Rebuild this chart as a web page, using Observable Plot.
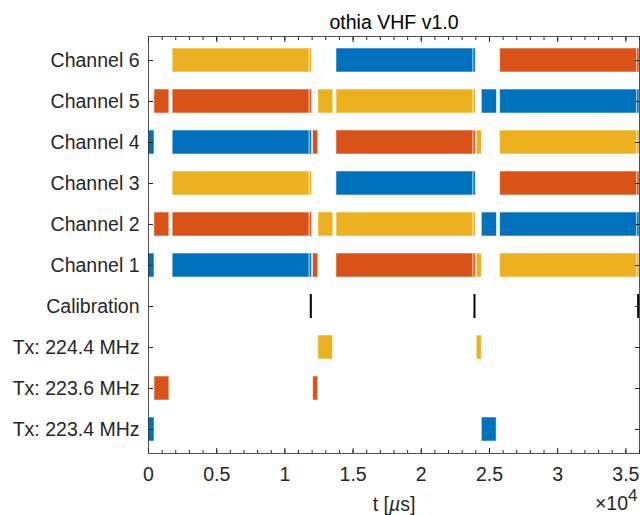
<!DOCTYPE html>
<html>
<head>
<meta charset="utf-8">
<script src="https://cdn.jsdelivr.net/npm/d3@7"></script>
<script src="https://cdn.jsdelivr.net/npm/@observablehq/plot@0.6"></script>
<style>
  html, body { margin: 0; padding: 0; background: #fff; }
</style>
</head>
<body>
<div id="chart"></div>
<script>
// ---- data (times in µs) ----
const rowLabels = ["Channel 6", "Channel 5", "Channel 4", "Channel 3", "Channel 2", "Channel 1",
  "Calibration", "Tx: 224.4 MHz", "Tx: 223.6 MHz", "Tx: 223.4 MHz"];
const freqLabels = ["223.4", "223.6", "224.4"];
const freqColors = ["#0072BD", "#D95319", "#EDB120"];

// [start, end, transmit frequency]
const channel1 = [[0, 440, "223.4"], [1770, 11820, "223.4"], [11820, 11990, "223.4"], [12060, 12450, "223.6"],
  [13780, 23830, "223.6"], [23830, 24000, "223.6"], [24070, 24450, "224.4"],
  [25780, 35830, "224.4"], [35830, 36000, "224.4"]];
const channel2 = [[430, 1530, "223.6"], [1770, 11820, "223.6"], [11820, 11990, "223.6"], [12450, 13550, "224.4"],
  [13780, 23830, "224.4"], [23830, 24000, "224.4"], [24440, 25550, "223.4"],
  [25780, 35830, "223.4"], [35830, 36000, "223.4"]];
const channel3 = [[1770, 11820, "224.4"], [11820, 11990, "224.4"],
  [13780, 23830, "223.4"], [23830, 24000, "223.4"],
  [25780, 35830, "223.6"], [35830, 36000, "223.6"]];
const channel4 = [[0, 440, "223.4"], [1770, 11820, "223.4"], [11820, 11990, "223.4"], [12060, 12450, "223.6"],
  [13780, 23830, "223.6"], [23830, 24000, "223.6"], [24070, 24450, "224.4"],
  [25780, 35830, "224.4"], [35830, 36000, "224.4"]];
const channel5 = [[430, 1530, "223.6"], [1770, 11820, "223.6"], [11820, 11990, "223.6"], [12450, 13550, "224.4"],
  [13780, 23830, "224.4"], [23830, 24000, "224.4"], [24440, 25550, "223.4"],
  [25780, 35830, "223.4"], [35830, 36000, "223.4"]];
const channel6 = [[1770, 11820, "224.4"], [11820, 11990, "224.4"],
  [13780, 23830, "223.4"], [23830, 24000, "223.4"],
  [25780, 35830, "223.6"], [35830, 36000, "223.6"]];
const tx2244 = [[12450, 13530, "224.4"], [24070, 24440, "224.4"]];
const tx2236 = [[440, 1530, "223.6"], [12070, 12450, "223.6"]];
const tx2234 = [[0, 440, "223.4"], [24440, 25530, "223.4"]];
const calibrationTimes = [11900, 23900, 35900];

const xMajorTicks = [0, 5000, 10000, 15000, 20000, 25000, 30000, 35000];
const xMinorTicks = d3.range(0, 36001, 1000);
const xDomain = [0, 36000];

// ---- build table ----
const rowSegments = [
  ["Channel 6", channel6], ["Channel 5", channel5], ["Channel 4", channel4],
  ["Channel 3", channel3], ["Channel 2", channel2], ["Channel 1", channel1],
  ["Tx: 224.4 MHz", tx2244], ["Tx: 223.6 MHz", tx2236], ["Tx: 223.4 MHz", tx2234]
];
const segments = rowSegments.flatMap(([row, segs]) =>
  segs.map(([start, end, freq]) => ({row, start, end, freq})));
const calib = calibrationTimes.map(t => ({row: "Calibration", t}));

const ink = "#262626";
const font = "'Liberation Sans', Arial, Helvetica, sans-serif";
const fs = 19.5;

const plot = Plot.plot({
  width: 640,
  height: 515,
  marginLeft: 148,
  marginRight: 1,
  marginTop: 36,
  marginBottom: 62,
  style: {fontFamily: font, fontSize: fs + "px", color: ink, background: "#fff"},
  x: {domain: xDomain, label: null},
  y: {type: "band", domain: rowLabels, paddingInner: 0.42, paddingOuter: 0.21, align: 0.5, label: null},
  color: {domain: freqLabels, range: freqColors},
  marks: [
    Plot.barX(segments, {
      x1: "start", x2: "end", y: "row", fill: "freq",
      stroke: "white", strokeWidth: 1, strokeOpacity: 0.55
    }),
    Plot.tickX(calib, {x: "t", y: "row", stroke: "black", strokeWidth: 2}),
    Plot.frame({stroke: ink, strokeOpacity: 0.8}),
    // y axis labels and inward ticks
    Plot.axisY({anchor: "left", tickSize: 0, tickPadding: 9, label: null, fontSize: fs}),
    Plot.axisY({anchor: "left", tickSize: -5, tickFormat: () => "", label: null}),
    Plot.axisY({anchor: "right", tickSize: -5, tickFormat: () => "", label: null}),
    // x axis labels and inward ticks (bottom and top)
    Plot.axisX(xMajorTicks, {anchor: "bottom", tickSize: 0, tickPadding: 14, tickFormat: d => d / 1e4, label: null, fontSize: fs}),
    Plot.axisX(xMajorTicks, {anchor: "bottom", tickSize: -5, tickFormat: () => "", label: null}),
    Plot.axisX(xMinorTicks, {anchor: "bottom", tickSize: -3, tickFormat: () => "", label: null}),
    Plot.axisX(xMajorTicks, {anchor: "top", tickSize: -5, tickFormat: () => "", label: null}),
    Plot.axisX(xMinorTicks, {anchor: "top", tickSize: -3, tickFormat: () => "", label: null}),
    // title and labels
    Plot.text(["othia VHF v1.0"], {frameAnchor: "top", lineAnchor: "middle", dy: -14, fontSize: fs, fill: "black"}),
    Plot.text(["t [µs]"], {frameAnchor: "bottom", lineAnchor: "middle", dy: 51, fontSize: fs, fill: ink}),
    Plot.text(["×104"], {frameAnchor: "bottom-right", lineAnchor: "middle", textAnchor: "end", dx: -2, dy: 50, fontSize: fs, fill: ink})
  ]
});

// rich text: italic mu and superscript exponent
d3.select(plot).selectAll("text").each(function () {
  const t = this.textContent;
  const sel = d3.select(this);
  if (t === "t [µs]") {
    sel.text(null);
    sel.append("tspan").text("t [");
    sel.append("tspan").attr("font-style", "italic").text("µ");
    sel.append("tspan").text("s]");
  } else if (t === "×104") {
    sel.text(null);
    sel.append("tspan").text("×10");
    sel.append("tspan").attr("dy", "-0.5em").attr("font-size", "17px").text("4");
  }
});

document.getElementById("chart").appendChild(plot);
</script>
</body>
</html>
